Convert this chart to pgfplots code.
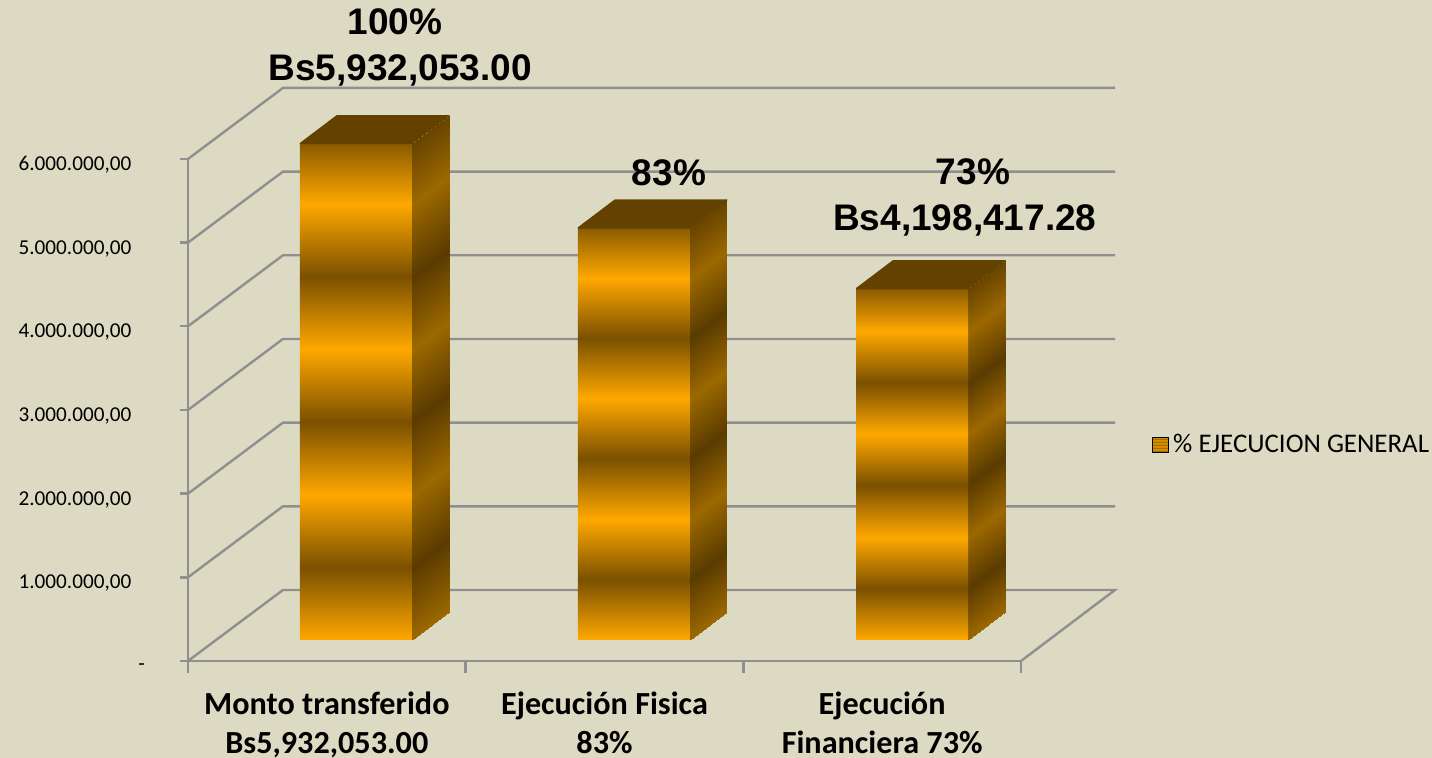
\documentclass[border=0pt]{standalone}
\usepackage{fontspec}
\setmainfont{Carlito}
\newfontfamily\arialfont{Liberation Sans}
\usepackage{pgfplots}
\usepackage{pgfplotstable}
\pgfplotsset{compat=1.18}
\definecolor{bg}{HTML}{DDDAC3}
\definecolor{wall}{HTML}{8F8F8F}
\definecolor{topface}{HTML}{634200}
\definecolor{sdark}{HTML}{5A3B00}
\definecolor{sbright}{HTML}{9C6800}
\definecolor{fbright}{HTML}{FFA800}
\definecolor{fdark}{HTML}{7A5000}
\definecolor{ftop}{HTML}{8A5B00}
\pgfdeclareverticalshading{frontstripes}{100bp}{
 color(0bp)=(fbright); color(25bp)=(fbright); color(32.3bp)=(fdark); color(39.6bp)=(fbright);
 color(47bp)=(fdark); color(54.3bp)=(fbright); color(61.6bp)=(fdark); color(68.9bp)=(fbright);
 color(75bp)=(ftop); color(100bp)=(ftop)}
\pgfdeclareverticalshading{legendstripes}{100bp}{
 color(0bp)=(fbright); color(25bp)=(fbright); color(30bp)=(fdark); color(35bp)=(fbright);
 color(40bp)=(fdark); color(45bp)=(fbright); color(50bp)=(fdark); color(55bp)=(fbright);
 color(60bp)=(fdark); color(65bp)=(fbright); color(70bp)=(fdark); color(75bp)=(fbright); color(100bp)=(fbright)}
% one side of a bar: h = fraction of the height, d = fraction of the depth, m = colour
\pgfplotstableread{
h d m
1.000 0 0.20
1.000 1 0.20
0.877 0 1
0.877 1 1
0.730 0 0
0.730 1 0
0.585 0 1
0.585 1 1
0.440 0 0
0.440 1 0
0.293 0 1
0.293 1 1
0.146 0 0
0.146 1 0
0.000 0 1
0.000 1 1
}\stripes
\newcommand{\threedbar}[2]{%
 \addplot[surf,shader=interp,mesh/rows=8,mesh/cols=2,point meta=\thisrow{m}]
   table[x expr={#1+0.2017+\thisrow{d}*0.1333},y expr={#2*\thisrow{h}+\thisrow{d}*0.3346}] {\stripes};
 \addplot[ybar,bar width=56pt,bar shift=0pt,draw=none,shading=frontstripes] coordinates {(#1,#2)};
}
\begin{document}
\begin{tikzpicture}
\path[use as bounding box,fill=bg] (0,0) rectangle (716pt,379pt);
\begin{axis}[
  at={(94pt,48.5pt)},anchor=south west,scale only axis,width=463.5pt,height=286.5pt,
  xmin=0,xmax=3.3385,ymin=0,ymax=6.848,clip=false,
  axis line style={draw=none},
  tick align=outside,xtick pos=bottom,ytick pos=left,
  major tick length=4pt,minor tick length=6pt,
  tick style={draw=wall,line width=1.2pt},
  major x tick style={draw=none},
  minor x tick num=0,
  xtick={0.5,1.5,2.5},minor xtick={0,1,2,3},
  xticklabels={{Monto transferido\\Bs5,932,053.00},{Ejecución Fisica\\83\%},{Ejecución\\Financiera 73\%}},
  xticklabel style={align=center,inner ysep=0pt,font=\fontsize{16.1}{19.5}\selectfont\bfseries,yshift=-11.1pt},
  ytick={0,1,2,3,4,5,6},
  yticklabels={{\rlap{\hspace{3.5pt}-}},{1.000.000,00},{2.000.000,00},{3.000.000,00},{4.000.000,00},{5.000.000,00},{6.000.000,00}},
  yticklabel style={font=\fontsize{10.6}{13}\selectfont,xshift=-20.8pt,yshift=-3pt},
  legend style={at={(1.0399,0.377)},anchor=west,draw=none,fill=none,inner sep=0pt,
    font=\fontsize{13.45}{16}\selectfont},
  legend cell align=left,
]
\addlegendimage{legend image code/.code={\path[shading=legendstripes] (0pt,-3.75pt) rectangle (8pt,3.75pt);}}
\addlegendentry{\% EJECUCION GENERAL}
\addplot[wall,line width=1.2pt,forget plot] coordinates {(0,0)(3,0)};
\addplot[wall,line width=1.2pt,forget plot] coordinates {(0,0)(0,6)};
\addplot[wall,line width=1.2pt,forget plot] coordinates {(0,0)(0.342,0.8486)(3.3385,0.8486)(3,0)};
\addplot[wall,line width=1.2pt,forget plot] coordinates {(0,1)(0.342,1.8486)(3.3385,1.8486)};
\addplot[wall,line width=1.2pt,forget plot] coordinates {(0,2)(0.342,2.8486)(3.3385,2.8486)};
\addplot[wall,line width=1.2pt,forget plot] coordinates {(0,3)(0.342,3.8486)(3.3385,3.8486)};
\addplot[wall,line width=1.2pt,forget plot] coordinates {(0,4)(0.342,4.8486)(3.3385,4.8486)};
\addplot[wall,line width=1.2pt,forget plot] coordinates {(0,5)(0.342,5.8486)(3.3385,5.8486)};
\addplot[wall,line width=1.2pt,forget plot] coordinates {(0,6)(0.342,6.8486)(3.3385,6.8486)};
\end{axis}
\begin{axis}[
  at={(94pt,48.5pt)},anchor=south west,scale only axis,width=463.5pt,height=286.5pt,
  xmin=0,xmax=3.3385,ymin=-0.251,ymax=6.597,clip=false,hide axis,
  colormap={sidemap}{color=(sdark) color=(sbright)},
  point meta min=0,point meta max=1,
]
\threedbar{0.605}{5.932053}
\addplot[fill=topface,draw=topface,line width=0.6pt,line join=round] coordinates {(0.4033,5.932053)(0.8067,5.932053)(0.94,6.2667)(0.5366,6.2667)(0.4033,5.932053)};
\threedbar{1.606}{4.923604}
\addplot[fill=topface,draw=topface,line width=0.6pt,line join=round] coordinates {(1.4043,4.923604)(1.8077,4.923604)(1.941,5.2582)(1.5376,5.2582)(1.4043,4.923604)};
\threedbar{2.608}{4.198417}
\addplot[fill=topface,draw=topface,line width=0.6pt,line join=round] coordinates {(2.4063,4.198417)(2.8097,4.198417)(2.943,4.533)(2.5396,4.533)(2.4063,4.198417)};
\node[align=center,font=\arialfont\bfseries\fontsize{18.5}{23}\selectfont] at (axis cs:0.7635,7.08) {100\%\hspace*{5pt}\\Bs5,932,053.00};
\node[align=center,font=\arialfont\bfseries\fontsize{18.5}{23}\selectfont] at (axis cs:1.732,5.58) {83\%};
\node[align=center,font=\arialfont\bfseries\fontsize{18.5}{23}\selectfont] at (axis cs:2.798,5.29) {\hspace*{8pt}73\%\\Bs4,198,417.28};
\end{axis}
\end{tikzpicture}
\end{document}
